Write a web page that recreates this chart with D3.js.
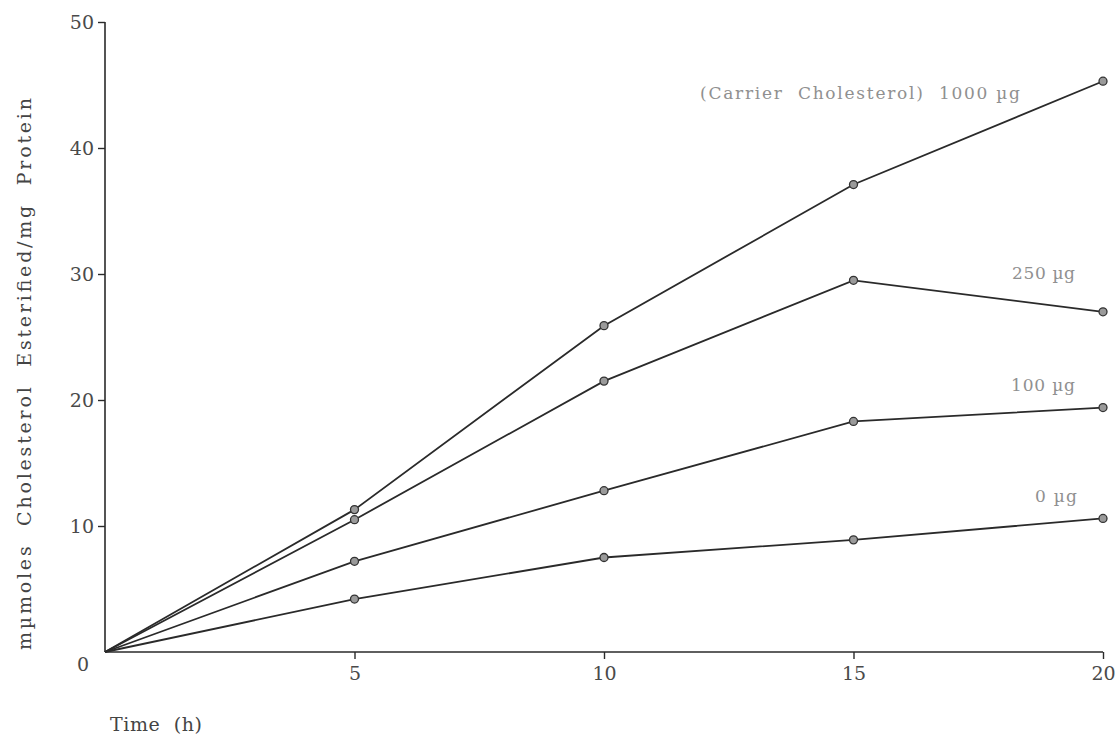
<!DOCTYPE html>
<html>
<head>
<meta charset="utf-8">
<script src="https://cdn.jsdelivr.net/npm/d3@7"></script>
<style>
  html, body { margin: 0; padding: 0; background: #fff; }
  svg { display: block; font-family: "DejaVu Serif", "Liberation Serif", serif; }
</style>
</head>
<body>
<div id="chart"></div>
<script>
// ----- Data -----
const times = [0, 5, 10, 15, 20];
const carrier1000 = [0, 11.3, 25.9, 37.1, 45.3];
const carrier250  = [0, 10.5, 21.5, 29.5, 27.0];
const carrier100  = [0, 7.2, 12.8, 18.3, 19.4];
const carrier0    = [0, 4.2, 7.5, 8.9, 10.6];
const seriesLabels = ["(Carrier  Cholesterol)  1000 µg", "250 µg", "100 µg", "0 µg"];
const xTicks = [5, 10, 15, 20];
const yTicks = [10, 20, 30, 40, 50];

// ----- Layout -----
const width = 1119, height = 738;
const margin = { top: 22, right: 16, bottom: 86, left: 105 };
const innerW = width - margin.left - margin.right;
const innerH = height - margin.top - margin.bottom;

const svg = d3.select("#chart").append("svg")
  .attr("width", width)
  .attr("height", height);

const g = svg.append("g")
  .attr("transform", `translate(${margin.left},${margin.top})`);

const x = d3.scaleLinear().domain([0, 20]).range([0, innerW]);
const y = d3.scaleLinear().domain([0, 50]).range([innerH, 0]);

const ink = "#2a2a2a";
const textInk = "#4a4a4a";

// y axis
const yAxis = g.append("g")
  .call(d3.axisLeft(y).tickValues(yTicks).tickSize(7).tickPadding(4));
yAxis.select(".domain").attr("stroke", ink).attr("stroke-width", 1.6)
  .attr("d", `M0,${y(50)}V${y(0)}`);
yAxis.selectAll(".tick line").attr("stroke", ink).attr("stroke-width", 1.4);
yAxis.selectAll(".tick text")
  .attr("fill", textInk).attr("font-size", 19)
  .attr("font-family", "DejaVu Serif, serif");

// "0" at origin
g.append("text")
  .attr("x", -16).attr("y", innerH + 19)
  .attr("text-anchor", "end")
  .attr("fill", textInk).attr("font-size", 19)
  .text("0");

// x axis
const xAxis = g.append("g")
  .attr("transform", `translate(0,${innerH})`)
  .call(d3.axisBottom(x).tickValues(xTicks).tickSize(7).tickPadding(8));
xAxis.select(".domain").attr("stroke", ink).attr("stroke-width", 1.6)
  .attr("d", `M0,0H${innerW}`);
xAxis.selectAll(".tick line").attr("stroke", ink).attr("stroke-width", 1.4);
xAxis.selectAll(".tick text")
  .attr("fill", textInk).attr("font-size", 19)
  .attr("font-family", "DejaVu Serif, serif");

// lines + markers
const allSeries = [carrier1000, carrier250, carrier100, carrier0];
const line = d3.line().x((d, i) => x(times[i])).y(d => y(d));

allSeries.forEach(vals => {
  g.append("path")
    .datum(vals)
    .attr("fill", "none")
    .attr("stroke", ink)
    .attr("stroke-width", 1.8)
    .attr("d", line);

  g.selectAll(null)
    .data(vals.slice(1))
    .enter()
    .append("circle")
    .attr("cx", (d, i) => x(times[i + 1]))
    .attr("cy", d => y(d))
    .attr("r", 4)
    .attr("fill", "#9a9a9a")
    .attr("stroke", "#333")
    .attr("stroke-width", 1.3);
});

// series labels (start x, baseline y, width)
const labelPos = [
  { x: 700,  y: 99,  w: 320 },
  { x: 1012, y: 279, w: 63 },
  { x: 1011, y: 391, w: 64 },
  { x: 1035, y: 502, w: 42 }
];
seriesLabels.forEach((t, i) => {
  svg.append("text")
    .attr("x", labelPos[i].x)
    .attr("y", labelPos[i].y)
    .attr("fill", "#909090")
    .attr("font-size", 17)
    .attr("textLength", labelPos[i].w)
    .attr("lengthAdjust", "spacing")
    .style("white-space", "pre")
    .text(t);
});

// axis titles
svg.append("text")
  .attr("transform", "translate(31,374) rotate(-90)")
  .attr("text-anchor", "middle")
  .attr("fill", "#444")
  .attr("font-size", 19)
  .attr("textLength", 552)
  .attr("lengthAdjust", "spacing")
  .style("white-space", "pre")
  .text("mµmoles  Cholesterol  Esterified/mg  Protein");

svg.append("text")
  .attr("x", 110).attr("y", 731)
  .attr("fill", "#444")
  .attr("font-size", 19)
  .attr("textLength", 92)
  .attr("lengthAdjust", "spacing")
  .style("white-space", "pre")
  .text("Time  (h)");
</script>
</body>
</html>
